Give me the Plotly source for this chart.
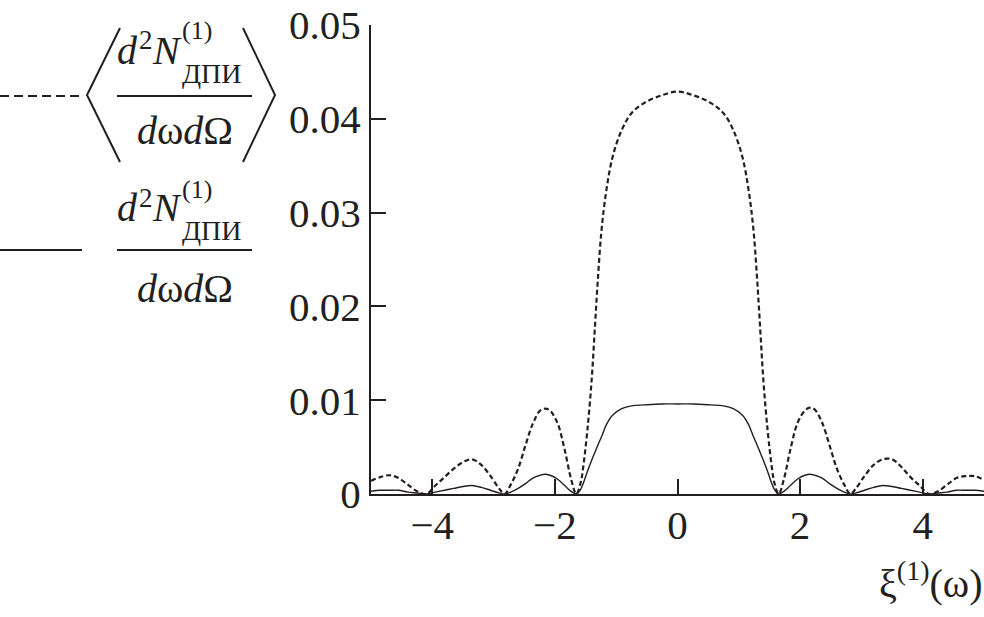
import plotly.graph_objects as go

# ---------------- data ----------------
xi = [-5.0, -4.85, -4.7, -4.55, -4.4, -4.25, -4.1, -3.95, -3.8, -3.65, -3.5, -3.35, -3.2, -3.05, -2.9,
      -2.82, -2.72, -2.6, -2.48, -2.36, -2.24, -2.16, -2.08, -1.96, -1.84, -1.74, -1.65,
      -1.58, -1.54, -1.47, -1.40, -1.35, -1.30, -1.24, -1.16, -1.06, -0.91, -0.75, -0.54, -0.26, 0.0,
      0.26, 0.54, 0.75, 0.91, 1.06, 1.16, 1.24, 1.30, 1.35, 1.40, 1.47, 1.54, 1.58,
      1.65, 1.74, 1.84, 1.96, 2.08, 2.16, 2.24, 2.36, 2.48, 2.6, 2.72, 2.82,
      2.9, 3.05, 3.2, 3.35, 3.5, 3.65, 3.8, 3.95, 4.1, 4.25, 4.4, 4.55, 4.7, 4.85, 5.0]

averaged = [0.0014, 0.0018, 0.0020, 0.0017, 0.0010, 0.0003, 0.0, 0.0009, 0.0018, 0.0027, 0.0034, 0.0037, 0.0031, 0.0019, 0.0005,
            0.0, 0.0010, 0.0027, 0.0052, 0.0075, 0.0089, 0.0091, 0.0089, 0.0076, 0.0047, 0.0017, 0.0,
            0.0012, 0.0028, 0.0068, 0.0122, 0.0175, 0.0228, 0.0281, 0.0324, 0.0359, 0.0388, 0.0406, 0.0417, 0.0425, 0.0429,
            0.0425, 0.0417, 0.0406, 0.0388, 0.0359, 0.0324, 0.0281, 0.0228, 0.0175, 0.0122, 0.0068, 0.0028, 0.0012,
            0.0, 0.0017, 0.0047, 0.0076, 0.0089, 0.0092, 0.0090, 0.0076, 0.0052, 0.0027, 0.0010, 0.0,
            0.0005, 0.0019, 0.0031, 0.0037, 0.0037, 0.0029, 0.0018, 0.0009, 0.0, 0.0003, 0.0010, 0.0017, 0.0019, 0.0019, 0.0015]

single = [0.0003, 0.0004, 0.0004, 0.0004, 0.0002, 0.0001, 0.0, 0.0002, 0.0004, 0.0006, 0.0008, 0.0009, 0.0007, 0.0004, 0.0001,
          0.0, 0.0002, 0.0006, 0.0011, 0.0017, 0.0020, 0.0021, 0.0020, 0.0016, 0.0009, 0.0003, 0.0,
          0.0005, 0.0011, 0.0024, 0.0036, 0.0044, 0.0052, 0.0061, 0.0074, 0.0084, 0.0091, 0.0094, 0.0095, 0.0096, 0.0096,
          0.0096, 0.0095, 0.0094, 0.0091, 0.0084, 0.0074, 0.0061, 0.0052, 0.0044, 0.0036, 0.0024, 0.0011, 0.0005,
          0.0, 0.0003, 0.0009, 0.0016, 0.0020, 0.0021, 0.0020, 0.0017, 0.0011, 0.0006, 0.0002, 0.0,
          0.0001, 0.0004, 0.0007, 0.0009, 0.0008, 0.0006, 0.0004, 0.0002, 0.0, 0.0001, 0.0002, 0.0004, 0.0004, 0.0004, 0.0003]

x_ticks = [-4, -2, 0, 2, 4]
x_tick_labels = ["\u22124", "\u22122", "0", "2", "4"]
y_ticks = [0, 0.01, 0.02, 0.03, 0.04, 0.05]
y_tick_labels = ["0", "0.01", "0.02", "0.03", "0.04", "0.05"]

# ---------------- layout helpers ----------------
W, H = 984, 617
ML, MR, MT, MB = 371, 0, 25, 123
PW, PH = W - ML - MR, H - MT - MB
INK = "#231f20"
FONT = "Liberation Serif, Times New Roman, Times, serif"


def px(x):
    return (x - ML) / PW


def py(y):
    return (H - MB - y) / PH


fig = go.Figure()
fig.add_trace(go.Scatter(x=xi, y=averaged, mode="lines", line=dict(color=INK, width=2.2, dash="5px,3px"),
                         showlegend=False, line_shape="spline", hoverinfo="skip"))
fig.add_trace(go.Scatter(x=xi, y=single, mode="lines", line=dict(color=INK, width=1.4),
                         showlegend=False, line_shape="spline", hoverinfo="skip"))

shapes = []
# legend line samples
shapes.append(dict(type="line", xref="paper", yref="paper", x0=px(0), x1=px(80), y0=py(96), y1=py(96),
                   line=dict(color=INK, width=1.8, dash="9px,5px")))
shapes.append(dict(type="line", xref="paper", yref="paper", x0=px(0), x1=px(82), y0=py(250), y1=py(250),
                   line=dict(color=INK, width=2)))
# fraction bars
for yy in (96, 250):
    shapes.append(dict(type="line", xref="paper", yref="paper", x0=px(117), x1=px(252), y0=py(yy), y1=py(yy),
                       line=dict(color=INK, width=2)))
# angle brackets
shapes.append(dict(type="path", xref="paper", yref="paper",
                   path=f"M {px(120)} {py(28)} L {px(87)} {py(95)} L {px(120)} {py(162)}",
                   line=dict(color=INK, width=2)))
shapes.append(dict(type="path", xref="paper", yref="paper",
                   path=f"M {px(243)} {py(28)} L {px(275)} {py(95)} L {px(243)} {py(162)}",
                   line=dict(color=INK, width=2)))

annotations = []


def txt(x, y, s, size, xanchor="left"):
    annotations.append(dict(x=px(x), y=py(y), xref="paper", yref="paper", text=s, showarrow=False,
                            xanchor=xanchor, yanchor="middle", font=dict(family=FONT, size=size, color=INK)))


for top in (0, 158):
    txt(115, 50 + top, "<i>d</i>", 40)
    txt(137, 40 + top, "2", 27)
    txt(150, 50 + top, "<i>N</i>", 40)
    txt(180, 31 + top, "(1)", 26)
    txt(180, 73 + top, "ДПИ", 28)
    txt(185, 130 + top, "<i>d</i>ω<i>d</i>Ω", 40, xanchor="center")

txt(984, 580, "ξ<sup>(1)</sup>(ω)", 40, xanchor="right")

fig.update_layout(
    width=W, height=H,
    margin=dict(l=ML, r=MR, t=MT, b=MB),
    paper_bgcolor="white", plot_bgcolor="white",
    shapes=shapes, annotations=annotations,
    xaxis=dict(range=[-5, 5], tickvals=x_ticks, ticktext=x_tick_labels, ticks="inside", ticklen=15,
               tickwidth=2, tickcolor=INK, showline=True, linewidth=2, linecolor=INK, showgrid=False,
               zeroline=False, tickfont=dict(family=FONT, size=41, color=INK), ticklabelstandoff=-6),
    yaxis=dict(range=[0, 0.05], tickvals=y_ticks, ticktext=y_tick_labels, ticks="inside", ticklen=15,
               tickwidth=2, tickcolor=INK, showline=True, linewidth=2, linecolor=INK, showgrid=False,
               zeroline=False, tickfont=dict(family=FONT, size=41, color=INK)),
)

fig.write_html("out.html", config={"displayModeBar": False},
               post_script="document.body.style.margin='0px';document.body.style.overflow='hidden';")
